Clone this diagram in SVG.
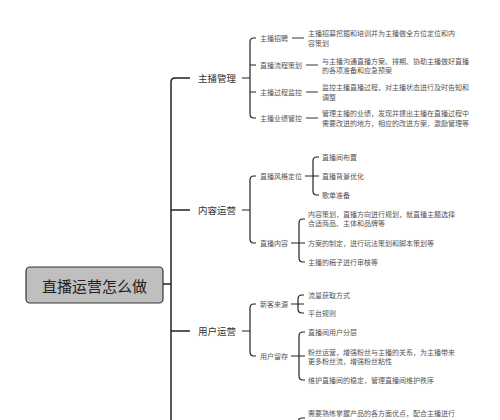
<svg xmlns="http://www.w3.org/2000/svg" width="500" height="420" viewBox="0 0 500 420">
<style>
text{font-family:"Noto Sans CJK SC","Noto Sans",sans-serif;dominant-baseline:central}
.root{font-size:15px;fill:#222}
.l1{font-size:9.5px;fill:#333}
.l2{font-size:7px;fill:#555}
.d{font-size:7px;fill:#555}
.main{fill:none;stroke:#222;stroke-width:1.5}
.br{fill:none;stroke:#222;stroke-width:1.2}
.dash{fill:none;stroke:#333;stroke-width:1}
</style>
<rect width="500" height="420" fill="#fff"/>
<g id="connectors">
<path class="main" d="M163 284H171M190 78H175Q171 78 171 82V420M171 210H190M171 331H190"/>
<path class="br" d="M242 78H250M256 38H254Q250 38 250 42V114Q250 118 254 118H256M250 65H256M250 92H256"/>
<path class="dash" d="M292 38H304M306 65H318M306 92H318M306 118H318"/>
<path class="br" d="M242 210H250M256 176H254Q250 176 250 180V239Q250 243 254 243H256"/>
<path class="br" d="M305 176H313M319 157H317Q313 157 313 161V191Q313 195 317 195H319M313 176H319"/>
<path class="br" d="M291 243H299M305 219H303Q299 219 299 223V258Q299 262 303 262H305M299 243H305"/>
<path class="br" d="M242 331H250M256 304H254Q250 304 250 308V352Q250 356 254 356H256"/>
<path class="br" d="M291 304H298M304 295H302Q298 295 298 299V309Q298 313 302 313H304M298 304H304"/>
<path class="br" d="M291 356H299M305 332H303Q299 332 299 336V376Q299 380 303 380H305M299 356H305"/>
<path class="br" d="M305 418H302Q298 418 298 422"/>
</g>
<g id="root"><rect x="26" y="267" width="137" height="36" rx="4" fill="#bfbfbf" stroke="#333" stroke-width="1.2"/><text class="root" x="94.5" y="285" text-anchor="middle">直播运营怎么做</text></g>
<g id="n1"><text class="l1" x="198" y="78">主播管理</text></g>
<g id="n1a"><text class="l2" x="260" y="38">主播招聘</text><text class="d" x="308" y="33">主播招募挖掘和培训并为主播做全方位定位和内</text><text class="d" x="308" y="43">容策划</text></g>
<g id="n1b"><text class="l2" x="260" y="65">直播流程策划</text><text class="d" x="322" y="61">与主播沟通直播方案、排期、协助主播做好直播</text><text class="d" x="322" y="70">的各项准备和应急预案</text></g>
<g id="n1c"><text class="l2" x="260" y="92">主播过程监控</text><text class="d" x="322" y="87">监控主播直播过程，对主播状态进行及时告知和</text><text class="d" x="322" y="97">调整</text></g>
<g id="n1d"><text class="l2" x="260" y="118">主播业绩管控</text><text class="d" x="322" y="113">管理主播的业绩，发现并提出主播在直播过程中</text><text class="d" x="322" y="123">需要改进的地方，相应的改进方案，激励管理等</text></g>
<g id="n2"><text class="l1" x="198" y="210">内容运营</text></g>
<g id="n2a"><text class="l2" x="260" y="176">直播风格定位</text><text class="d" x="322" y="157">直播间布置</text><text class="d" x="322" y="176">直播背景优化</text><text class="d" x="322" y="195">歌单准备</text></g>
<g id="n2b"><text class="l2" x="260" y="243">直播内容</text><text class="d" x="308" y="214">内容策划，直播方向进行规划，就直播主题选择</text><text class="d" x="308" y="223">合适商品、主体和品牌等</text><text class="d" x="308" y="243">方案的制定，进行玩法策划和脚本策划等</text><text class="d" x="308" y="262">主播的稿子进行审核等</text></g>
<g id="n3"><text class="l1" x="198" y="331">用户运营</text></g>
<g id="n3a"><text class="l2" x="260" y="304">新客来源</text><text class="d" x="308" y="295">流量获取方式</text><text class="d" x="308" y="313">平台规则</text></g>
<g id="n3b"><text class="l2" x="260" y="356">用户留存</text><text class="d" x="308" y="332">直播间用户分层</text><text class="d" x="308" y="352">粉丝运营，增强粉丝与主播的关系，为主播带来</text><text class="d" x="308" y="361">更多粉丝流，增强粉丝粘性</text><text class="d" x="308" y="380">维护直播间的稳定，管理直播间维护秩序</text></g>
<g id="n4"><text class="d" x="308" y="413">需要熟练掌握产品的各方面优点，配合主播进行</text></g>
</svg>
